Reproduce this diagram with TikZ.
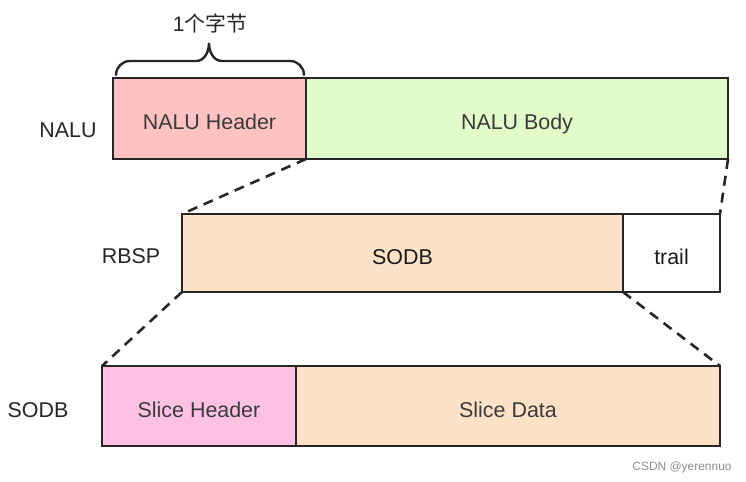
\documentclass[tikz,border=0pt]{standalone}
\usepackage{fontspec}
\setmainfont{Liberation Sans}
\newfontfamily\cjk{Noto Sans CJK SC}
\usetikzlibrary{calc}
\definecolor{hdrpink}{HTML}{FFC2C3}
\definecolor{bodygreen}{HTML}{E1FBC9}
\definecolor{peach}{HTML}{FDE2C8}
\definecolor{slicepink}{HTML}{FDC2E3}
\definecolor{txt}{HTML}{3A3A3A}
\begin{document}
\begin{tikzpicture}[x=1bp,y=-1bp,
  seg/.style={draw=black!85, line width=2.6bp, anchor=north west, inner sep=0pt, outer sep=0pt,
    font=\fontsize{21.5}{25}\selectfont, text=txt, text height=22bp, text depth=0bp},
  lbl/.style={font=\fontsize{21.5}{25}\selectfont, text=black!85, inner sep=0pt},
  zoomline/.style={draw=black!85, line width=2.6bp, dash pattern=on 10bp off 7bp}]
\useasboundingbox (0,0) rectangle (746,482);
% NALU row
\node[seg, fill=hdrpink, minimum width=193bp, minimum height=81bp] (hdr) at (113,78) {NALU Header};
\node[seg, fill=bodygreen, minimum width=422bp, minimum height=81bp] (body) at (306,78) {NALU Body};
\node[lbl] (nalu) at (68,130) {NALU};
% RBSP row
\node[seg, fill=peach, minimum width=441bp, minimum height=78bp, text=black!90] (sodb) at (182,214) {SODB};
\node[seg, fill=white, minimum width=97bp, minimum height=78bp, text=black!90] (trail) at (623,214) {trail};
\node[lbl] (rbsp) at (131,256) {RBSP};
% SODB row
\node[seg, fill=slicepink, minimum width=194bp, minimum height=80bp] (sh) at (102,366) {Slice Header};
\node[seg, fill=peach, minimum width=424bp, minimum height=80bp] (sd) at (296,366) {Slice Data};
\node[lbl] (sodblbl) at (38,410) {SODB};
% zoom lines
\draw[zoomline] (hdr.south east) -- (sodb.north west);
\draw[zoomline] (body.south east) -- (trail.north east);
\draw[zoomline] (sodb.south west) -- (sh.north west);
\draw[zoomline] (sodb.south east) -- (sd.north east);
% brace
\draw[black!85, line width=2.4bp, line cap=round]
  (116,75) to[out=90,in=180] (130,61) -- (196,61) to[out=0,in=-90] (209,43)
  to[out=-90,in=180] (222,61) -- (290,61) to[out=0,in=90] (304,75);
\node[font=\fontsize{21}{25}\selectfont, text=black!85, inner sep=0pt] (byte) at (210,23) {1{\cjk 个字节}};
% watermark
\node[font=\fontsize{12}{14}\selectfont, text=black!45, inner sep=0pt] (wm) at (682,467) {CSDN @yerennuo};
\end{tikzpicture}
\end{document}
